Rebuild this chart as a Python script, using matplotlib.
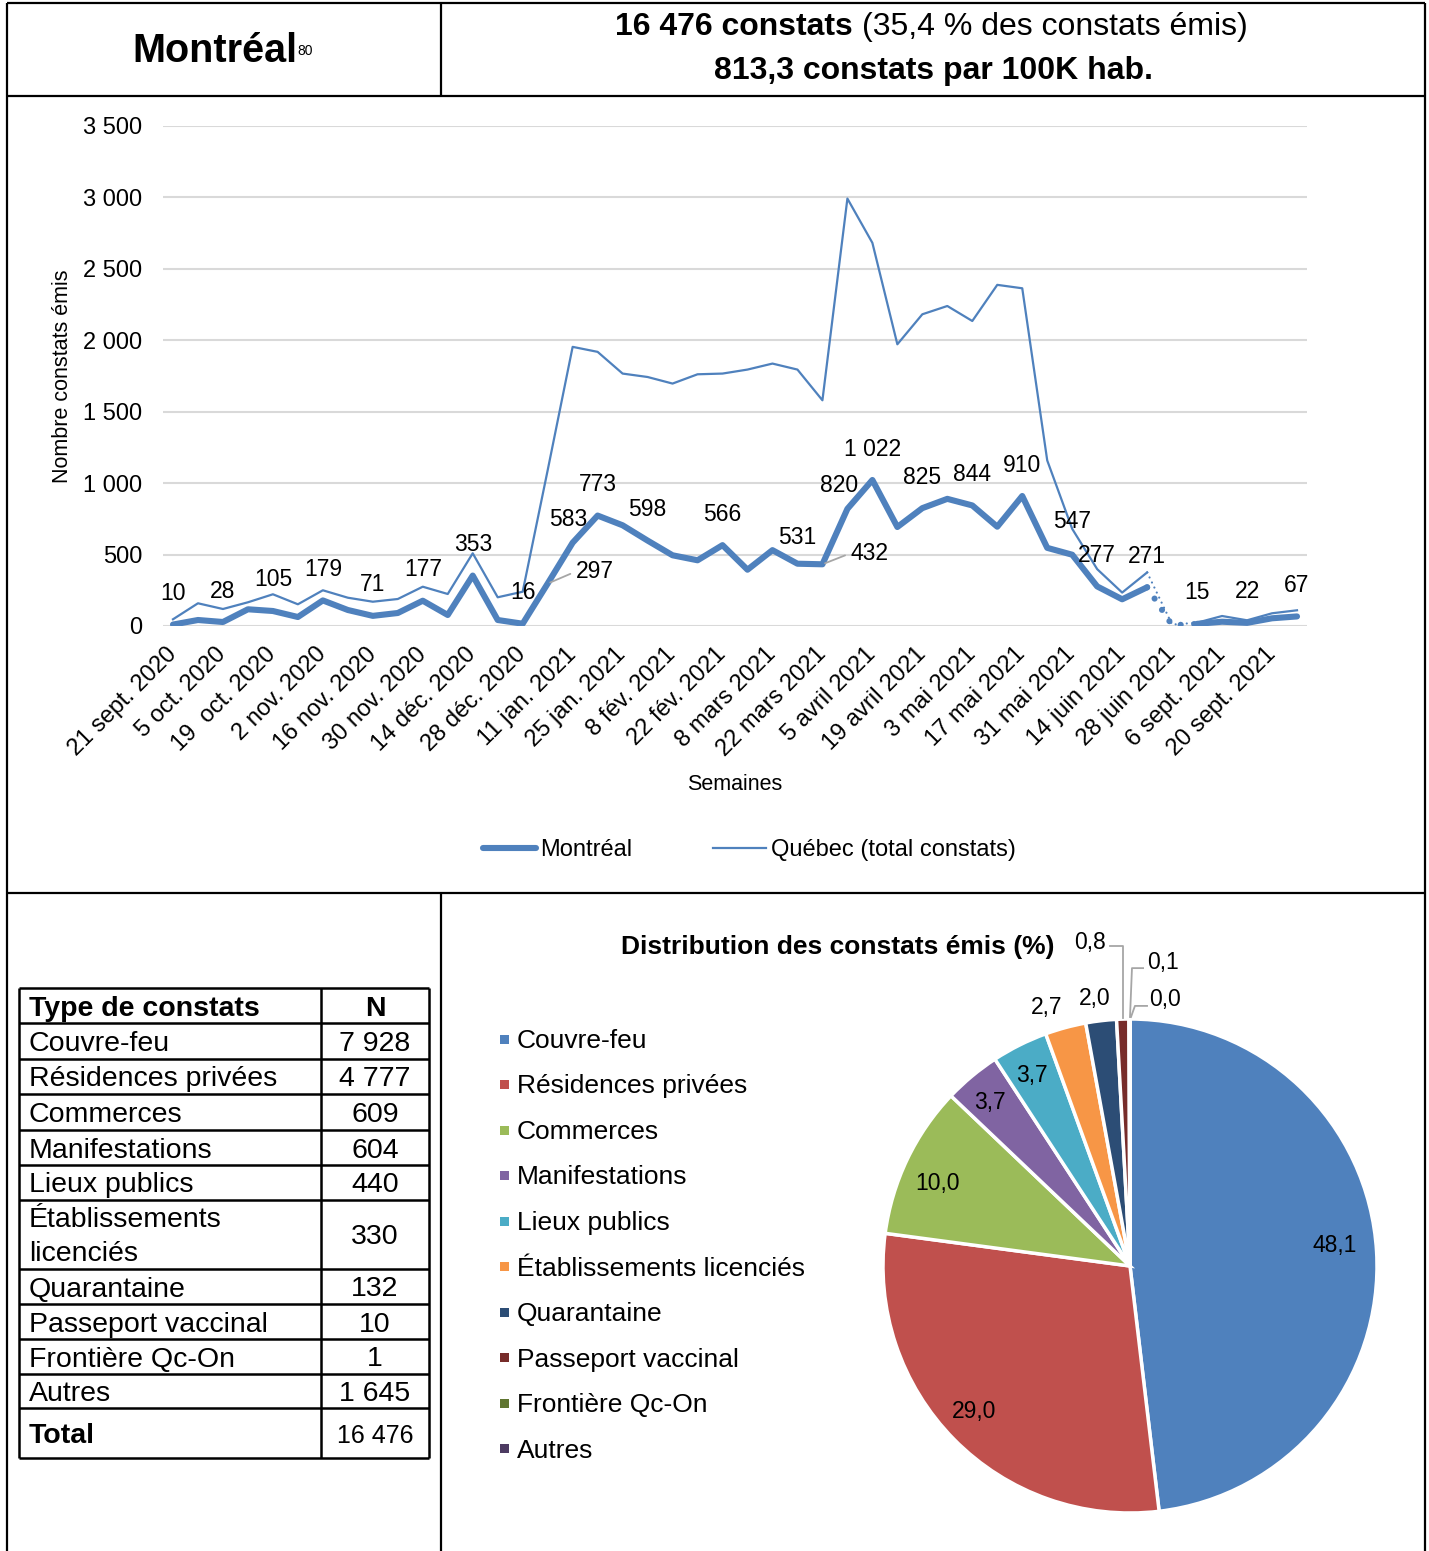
import numpy as np
import matplotlib.pyplot as plt
from matplotlib.lines import Line2D
from matplotlib.patches import Rectangle
from matplotlib.transforms import ScaledTranslation

plt.rcParams['font.family'] = ['Liberation Sans', 'DejaVu Sans']

W, H = 1429, 1551
BLUE = '#4F81BD'
GRID = '#D9D9D9'
LEADER = '#A6A6A6'

# ---- data -------------------------------------------------------------
tick_labels = ['21 sept. 2020', '5 oct. 2020', '19  oct. 2020', '2 nov. 2020',
               '16 nov. 2020', '30 nov. 2020', '14 déc. 2020', '28 déc. 2020',
               '11 jan. 2021', '25 jan. 2021', '8 fév. 2021', '22 fév. 2021',
               '8 mars 2021', '22 mars 2021', '5 avril 2021', '19 avril 2021',
               '3 mai 2021', '17 mai 2021', '31 mai 2021', '14 juin 2021',
               '28 juin 2021', '6 sept. 2021', '20 sept. 2021']

montreal = [10, 42, 28, 117, 105, 63, 179, 112, 71, 91,
            177, 77, 353, 42, 16, 297, 583, 773, 705, 598,
            495, 460, 566, 394, 531, 436, 432, 820, 1022, 693,
            825, 890, 844, 695, 910, 547, 499, 277, 187, 271,
            5, 15, 30, 22, 54, 67]

quebec = [47, 159, 119, 166, 222, 152, 250, 198, 170, 189,
          275, 224, 509, 201, 240, 1090, 1954, 1919, 1767, 1743,
          1697, 1762, 1767, 1795, 1837, 1795, 1580, 2992, 2682, 1972,
          2182, 2240, 2135, 2388, 2364, 1159, 680, 398, 234, 375,
          10, 23, 70, 40, 89, 110]

gap_week = 40  # semaine sans donnée, reliée en pointillé

labelled_weeks = [0, 2, 4, 6, 8, 10, 12, 14, 15, 16, 17, 19, 22, 24, 26, 27,
                  28, 30, 32, 34, 35, 37, 39, 41, 43, 45]
# label offsets in pixels (dx, dy up) where they differ from the default
label_offsets = {15: (47, 12), 16: (-4, 23), 24: (25, 13), 26: (47, 11),
                 27: (-8, 23), 35: (25, 26)}
leader_weeks = [15, 26]

table_types = ['Couvre-feu', 'Résidences privées', 'Commerces', 'Manifestations',
               'Lieux publics', 'Établissements licenciés', 'Quarantaine',
               'Passeport vaccinal', 'Frontière Qc-On', 'Autres']
table_counts = [7928, 4777, 609, 604, 440, 330, 132, 10, 1, 1645]

pie_order = ['Couvre-feu', 'Résidences privées', 'Autres', 'Commerces',
             'Manifestations', 'Lieux publics', 'Établissements licenciés',
             'Quarantaine', 'Passeport vaccinal', 'Frontière Qc-On']

excel_colors = ['#4F81BD', '#C0504D', '#9BBB59', '#8064A2', '#4BACC6',
                '#F79646', '#2C4D75', '#772C2A', '#5F7530', '#4D3B62']


def fx(px):
    return px / W


def fy(py):
    return 1 - py / H


def fmt(v):
    return f"{v:,}".replace(",", " ")


fig = plt.figure(figsize=(W / 100, H / 100), dpi=100)


def fig_line(xs, ys, color='black', lw=1.6):
    fig.add_artist(Line2D([fx(v) for v in xs], [fy(v) for v in ys],
                          color=color, lw=lw, solid_capstyle='butt'))


# ---- outer frame --------------------------------------------------------
fig_line([7, 1425], [3, 3])
fig_line([7, 1425], [96, 96])
fig_line([7, 1425], [893, 893])
fig_line([7, 7], [3, 1551])
fig_line([1425, 1425], [3, 1551])
fig_line([441, 441], [3, 96])
fig_line([441, 441], [893, 1551])

# ---- header -------------------------------------------------------------
fig.text(fx(132), fy(51), 'Montréal', fontsize=28.5, fontweight='bold',
         ha='left', va='center')
fig.text(fx(297), fy(51), '80', fontsize=10, ha='left', va='center')
fig.text(fx(853), fy(27), '16 476 constats', fontsize=23, fontweight='bold',
         ha='right', va='center')
fig.text(fx(862), fy(27), '(35,4 % des constats émis)', fontsize=23,
         ha='left', va='center')
fig.text(fx(933), fy(71), '813,3 constats par 100K hab.', fontsize=23,
         fontweight='bold', ha='center', va='center')

# ---- line chart ---------------------------------------------------------
ax = fig.add_axes([fx(163), fy(626), (1307 - 163) / W, 500 / H])
x = np.arange(len(montreal))
m = np.array(montreal, dtype=float)
q = np.array(quebec, dtype=float)

g = gap_week
ax.plot(x[:g], q[:g], color=BLUE, lw=1.6, solid_joinstyle='round')
ax.plot(x[g + 1:], q[g + 1:], color=BLUE, lw=1.6, solid_joinstyle='round')
ax.plot(x[g - 1:g + 2], q[g - 1:g + 2], color=BLUE, lw=1.6,
        ls=(0, (0.01, 2.5)), dash_capstyle='round')

ax.plot(x[:g], m[:g], color=BLUE, lw=4.4, solid_joinstyle='round',
        solid_capstyle='round')
ax.plot(x[g + 1:], m[g + 1:], color=BLUE, lw=4.4, solid_joinstyle='round',
        solid_capstyle='round')
ax.plot(x[g - 1:g + 2], m[g - 1:g + 2], color=BLUE, lw=4.4,
        ls=(0, (0.01, 2.2)), dash_capstyle='round')

for i in labelled_weeks:
    dx, dy = label_offsets.get(i, (0, 31))
    kw = {}
    if i in leader_weeks:
        kw['arrowprops'] = dict(arrowstyle='-', color=LEADER, lw=1.3,
                                shrinkA=2, shrinkB=2, relpos=(0, 0.5))
    ax.annotate(fmt(montreal[i]), xy=(i, montreal[i]),
                xytext=(dx * 0.72, dy * 0.72), textcoords='offset points',
                ha='center', va='center', fontsize=16.5,
                annotation_clip=False, **kw)

ax.set_xlim(-0.4, len(montreal) - 1 + 0.4)
ax.set_ylim(0, 3500)
yt = np.arange(0, 3501, 500)
ax.set_yticks(yt)
ax.set_yticklabels([fmt(int(v)) for v in yt], fontsize=17)
ax.set_xticks(np.arange(0, len(montreal), 2))
ax.set_xticklabels(tick_labels, fontsize=17, rotation=45, ha='right',
                   va='center', rotation_mode='anchor')
shift = ScaledTranslation(3 / 100, 0, fig.dpi_scale_trans)
for lab in ax.get_xticklabels():
    lab.set_transform(lab.get_transform() + shift)
ax.tick_params(axis='y', length=0, pad=15)
ax.tick_params(axis='x', length=0, pad=18)
ax.grid(axis='y', color=GRID, lw=1.5)
ax.set_axisbelow(True)
for s in ax.spines.values():
    s.set_visible(False)

fig.text(fx(62), fy(376), 'Nombre constats émis', fontsize=15.5,
         rotation=90, ha='center', va='center')
fig.text(fx(735), fy(784), 'Semaines', fontsize=15.5, ha='center', va='center')

handles = [Line2D([], [], color=BLUE, lw=4.4, solid_capstyle='round'),
           Line2D([], [], color=BLUE, lw=1.6)]
fig.legend(handles, ['Montréal', 'Québec (total constats)'], ncol=2,
           loc='center', bbox_to_anchor=(fx(749), fy(850)), frameon=False,
           fontsize=17, handlelength=2.25, handletextpad=0.2,
           columnspacing=3.4)

# ---- table --------------------------------------------------------------
row_edges = [988, 1023, 1059, 1094, 1130, 1165, 1200, 1269, 1304, 1339,
             1374, 1408, 1458]
tx0, tx1, tcol = 19, 429, 321
for y in row_edges:
    fig_line([tx0, tx1], [y, y], lw=1.8)
for xx in (tx0, tcol, tx1):
    fig_line([xx, xx], [row_edges[0], row_edges[-1]], lw=1.8)

ncx = (tcol + tx1) / 2
cy = (row_edges[0] + row_edges[1]) / 2 + 3
fig.text(fx(29), fy(cy), 'Type de constats', fontsize=20.5, fontweight='bold',
         ha='left', va='center')
fig.text(fx(ncx), fy(cy), 'N', fontsize=20.5, fontweight='bold',
         ha='center', va='center')
for k, (name, n) in enumerate(zip(table_types, table_counts)):
    top, bot = row_edges[k + 1], row_edges[k + 2]
    cy = (top + bot) / 2 + 3
    if name == 'Établissements licenciés':
        fig.text(fx(29), fy(top + 20), 'Établissements', fontsize=20.5,
                 ha='left', va='center')
        fig.text(fx(29), fy(top + 54), 'licenciés', fontsize=20.5,
                 ha='left', va='center')
    else:
        fig.text(fx(29), fy(cy), name, fontsize=20.5, ha='left', va='center')
    fig.text(fx(ncx), fy(cy), fmt(n), fontsize=20.5, ha='center', va='center')
cy = (row_edges[-2] + row_edges[-1]) / 2 + 3
fig.text(fx(29), fy(cy), 'Total', fontsize=20.5, fontweight='bold',
         ha='left', va='center')
fig.text(fx(ncx), fy(cy), fmt(sum(table_counts)), fontsize=18,
         ha='center', va='center')

# ---- pie chart ----------------------------------------------------------
fig.text(fx(838), fy(947), 'Distribution des constats émis (%)', fontsize=19,
         fontweight='bold', ha='center', va='center')

for k, name in enumerate(table_types):
    y = 1040 + 45.5 * k
    fig.add_artist(Rectangle((fx(500), fy(y + 3.5)), 9 / W, 9 / H,
                             transform=fig.transFigure,
                             facecolor=excel_colors[k], edgecolor='none'))
    fig.text(fx(517), fy(y + 1), name, fontsize=19, ha='left', va='center')

counts = dict(zip(table_types, table_counts))
pie_counts = [counts[n] for n in pie_order]
total = sum(pie_counts)
pcts = [100 * c / total for c in pie_counts]

R = 247
PC = (1130, 1266)
pax = fig.add_axes([fx(PC[0] - 1.3 * R), fy(PC[1] + 1.3 * R),
                    2.6 * R / W, 2.6 * R / H])
pax.pie(pie_counts, colors=excel_colors, startangle=90, counterclock=False,
        radius=1, wedgeprops=dict(edgecolor='white', linewidth=2.5))
pax.set_xlim(-1.3, 1.3)
pax.set_ylim(-1.3, 1.3)
pax.set_aspect('equal')

# label positions in radius units, same order as pie_order
pie_label_pos = [(0.83, 0.093), (-0.632, -0.583), (-0.781, 0.344),
                 (-0.567, 0.668), (-0.397, 0.781), (-0.336, 1.053),
                 (-0.142, 1.089), (-0.162, 1.316), (0.134, 1.235),
                 (0.142, 1.085)]
for p, (lx, ly) in zip(pcts, pie_label_pos):
    pax.text(lx, ly - 0.008, f"{p:.1f}".replace('.', ','), fontsize=16.5,
             ha='center', va='center', clip_on=False)

leaders = [[(-0.081, 1.296), (-0.028, 1.296), (-0.028, 1.004)],
           [(0.053, 1.206), (0.008, 1.206), (0.0, 1.008)],
           [(0.069, 1.053), (0.020, 1.053), (0.004, 1.008)]]
for pts in leaders:
    xs, ys = zip(*pts)
    pax.plot(xs, ys, color=LEADER, lw=1.3, clip_on=False)

fig.savefig('out.png', dpi=100)
